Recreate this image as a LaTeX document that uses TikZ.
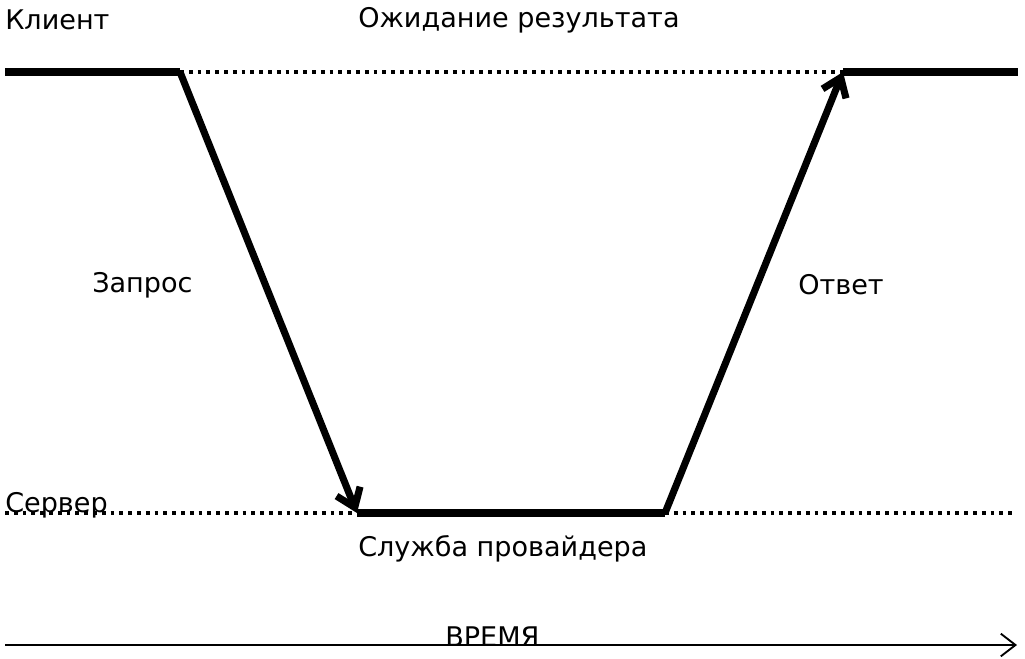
\documentclass[tikz,border=0pt]{standalone}
\usepackage{fontspec}
\setmainfont{DejaVu Sans}
\usetikzlibrary{arrows.meta}
\tikzset{
  lbl/.style={anchor=west,inner sep=0pt,font=\fontsize{20.3}{24}\selectfont},
  busy/.style={line width=5.3pt,line cap=butt},
  idle/.style={line width=2.8pt,dash pattern=on 2.8pt off 3.8pt},
  msg/.style={line width=5.3pt,-{Straight Barb[length=13pt,width=19pt,line width=5.3pt]}},
  axis/.style={line width=1.4pt,-{Straight Barb[length=11pt,width=17pt,line width=1.4pt]}},
}
\begin{document}
\begin{tikzpicture}[x=0.75pt,y=-0.75pt]
  \useasboundingbox (0,0) rectangle (1025,658);
  % client line
  \coordinate (c0) at (5,72);
  \coordinate (c1) at (180,72);
  \coordinate (c2) at (843,72);
  \coordinate (c3) at (1018,72);
  % server line
  \coordinate (s0) at (5,513);
  \coordinate (s1) at (357,513);
  \coordinate (s2) at (665,513);
  \coordinate (s3) at (1015,513);
  % time axis
  \coordinate (t0) at (5,645);
  \coordinate (t1) at (1017,645);

  \draw[busy] (c0) -- (c1);
  \draw[idle] (c1) -- (c2);
  \draw[busy] (c2) -- (c3);
  \draw[idle] (s0) -- (s1);
  \draw[busy] (s1) -- (s2);
  \draw[idle] (s2) -- (s3);
  \draw[msg] (c1) -- (s1);
  \draw[msg] (s2) -- (c2);
  \draw[axis] (t0) -- (t1);

  \node[lbl] (client) at (5,20) {Клиент};
  \node[lbl] (wait) at (358,20) {Ожидание результата};
  \node[lbl] (req) at (92,285) {Запрос};
  \node[lbl] (resp) at (798,285) {Ответ};
  \node[lbl] (server) at (5,505) {Сервер};
  \node[lbl] (provider) at (358,549) {Служба провайдера};
  \node[lbl] (time) at (445,637) {ВРЕМЯ};
\end{tikzpicture}
\end{document}
